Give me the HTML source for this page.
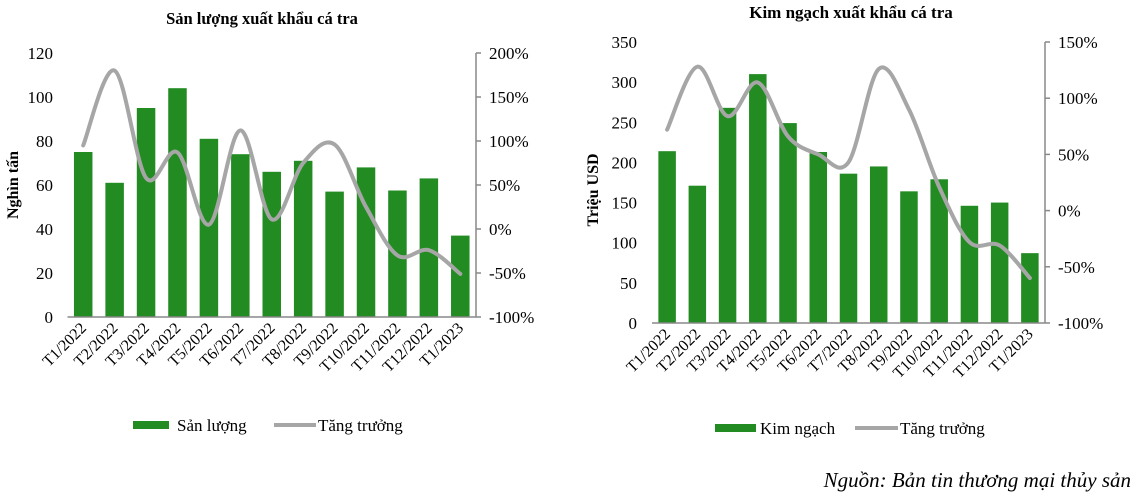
<!DOCTYPE html>
<html><head><meta charset="utf-8">
<style>
html,body{margin:0;padding:0;background:#fff;}
svg{display:block;font-family:"Liberation Serif",serif;}
</style></head>
<body>
<svg id="svg" width="1140" height="496" viewBox="0 0 1140 496" xmlns="http://www.w3.org/2000/svg">
<text x="262" y="24" text-anchor="middle" font-weight="bold" font-size="16.5">Sản lượng xuất khẩu cá tra</text>
<text x="851" y="18" text-anchor="middle" font-weight="bold" font-size="17">Kim ngạch xuất khẩu cá tra</text>
<text transform="translate(18,185) rotate(-90)" text-anchor="middle" font-weight="bold" font-size="16">Nghìn tấn</text>
<text transform="translate(598,190) rotate(-90)" text-anchor="middle" font-weight="bold" font-size="16">Triệu USD</text>
<g>
<rect x="133" y="421" width="36" height="8" fill="#228b22"/>
<text x="177" y="431" font-size="17">Sản lượng</text>
<line x1="274" y1="425" x2="316" y2="425" stroke="#a6a6a6" stroke-width="4"/>
<text x="318" y="431" font-size="17">Tăng trưởng</text>
</g>
<g>
<rect x="715" y="424" width="41" height="8" fill="#228b22"/>
<text x="760" y="434" font-size="17">Kim ngạch</text>
<line x1="855" y1="428" x2="898" y2="428" stroke="#a6a6a6" stroke-width="4"/>
<text x="900" y="434" font-size="17">Tăng trưởng</text>
</g>
<text x="1131" y="487" text-anchor="end" font-style="italic" font-size="21">Nguồn: Bản tin thương mại thủy sản</text>
</svg>
<script>
const categories = ["T1/2022","T2/2022","T3/2022","T4/2022","T5/2022","T6/2022","T7/2022","T8/2022","T9/2022","T10/2022","T11/2022","T12/2022","T1/2023"];
const volumeValues = [75,61,95,104,81,74,66,71,57,68,57.5,63,37];
const volumeGrowth = [95,180,58,87,5,112,11,75,96,25,-30,-24,-51];
const valueValues = [214,171,268,310,249,213,186,195,164,179,146,150,87];
const valueGrowth = [72,128,84,114,66,50,43,126,90,21,-28,-31,-60];
const leftTicks = [0,20,40,60,80,100,120];
const leftPctTicks = [-100,-50,0,50,100,150,200];
const rightTicks = [0,50,100,150,200,250,300,350];
const rightPctTicks = [-100,-50,0,50,100,150];

const NS = "http://www.w3.org/2000/svg";
const svg = document.getElementById('svg');
function mk(tag, attrs, parent){
  const e = document.createElementNS(NS, tag);
  for (const k in attrs) e.setAttribute(k, attrs[k]);
  (parent||svg).appendChild(e);
  return e;
}
function draw(cfg){
  const g = mk('g', {});
  
  
  const n = categories.length;
  const pitch = (cfg.x1 - cfg.x0) / n;
  const yL = v => cfg.base - (v - cfg.lMin) / (cfg.lMax - cfg.lMin) * (cfg.base - cfg.top);
  const yR = v => cfg.base - (v - cfg.rMin) / (cfg.rMax - cfg.rMin) * (cfg.base - cfg.top);
  const cx = i => cfg.x0 + pitch * (i + 0.5);
  cfg.lTicks.forEach(t => {
    const tx = mk('text', {x: cfg.lLabelX, y: yL(t) + 6, 'text-anchor': 'end', 'font-size': 17}, g);
    tx.textContent = t;
    
    
  });
  cfg.values.forEach((v, i) => {
    const r = mk('rect', {x: cx(i) - cfg.bw / 2, y: yL(v), width: cfg.bw, height: cfg.base - yL(v), fill: '#228b22'}, g);
    
    
  });
  const bl = mk('line', {x1: cfg.x0, y1: cfg.base, x2: cfg.x1, y2: cfg.base, stroke: '#888', 'stroke-width': 1.5}, g);
  
  
  const ra = mk('line', {x1: cfg.x1, y1: cfg.top, x2: cfg.x1, y2: cfg.base, stroke: '#888', 'stroke-width': 1.5}, g);
  
  
  cfg.rTicks.forEach(t => {
    const tk = mk('line', {x1: cfg.x1, y1: yR(t), x2: cfg.x1 + 5, y2: yR(t), stroke: '#888', 'stroke-width': 1.5}, g);
    
    
    const tx = mk('text', {x: cfg.rLabelX, y: yR(t) + 6, 'font-size': 17}, g);
    tx.textContent = t + '%';
    
    
  });
  categories.forEach((c, i) => {
    const x = cx(i) + 4, y = cfg.base + 12;
    const tx = mk('text', {x: x, y: y, 'text-anchor': 'end', 'font-size': 16, transform: `rotate(-45 ${x} ${y})`}, g);
    tx.textContent = c;
    
    
  });
  const pts = cfg.growth.map((v, i) => [cx(i), yR(v)]);
  let d = `M${pts[0][0]},${pts[0][1]}`;
  for (let i = 0; i < pts.length - 1; i++) {
    const p0 = pts[Math.max(0, i - 1)], p1 = pts[i], p2 = pts[i + 1], p3 = pts[Math.min(pts.length - 1, i + 2)];
    const c1 = [p1[0] + (p2[0] - p0[0]) / 6, p1[1] + (p2[1] - p0[1]) / 6];
    const c2 = [p2[0] - (p3[0] - p1[0]) / 6, p2[1] - (p3[1] - p1[1]) / 6];
    d += ` C${c1[0]},${c1[1]} ${c2[0]},${c2[1]} ${p2[0]},${p2[1]}`;
  }
  const ln = mk('path', {d: d, fill: 'none', stroke: '#a6a6a6', 'stroke-width': 4, 'stroke-linecap': 'round', 'stroke-linejoin': 'round'}, g);
  
  
}
draw({id: 'san-luong', x0: 67.5, x1: 476, top: 53, base: 317, lMin: 0, lMax: 120, rMin: -100, rMax: 200,
  values: volumeValues, growth: volumeGrowth, lTicks: leftTicks, rTicks: leftPctTicks, bw: 18.5, lLabelX: 53, rLabelX: 489});
draw({id: 'kim-ngach', x0: 652, x1: 1045, top: 42, base: 323, lMin: 0, lMax: 350, rMin: -100, rMax: 150,
  values: valueValues, growth: valueGrowth, lTicks: rightTicks, rTicks: rightPctTicks, bw: 17.5, lLabelX: 637, rLabelX: 1058});
</script>
</body></html>
